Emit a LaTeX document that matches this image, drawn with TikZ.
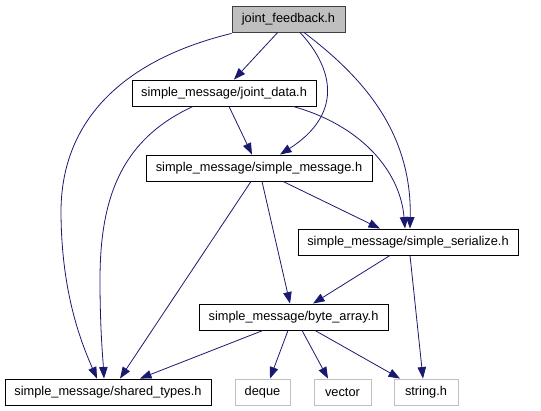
\documentclass[tikz,border=0pt]{standalone}
\usepackage{fontspec}
\setmainfont{Liberation Sans}
\usetikzlibrary{arrows.meta}
\definecolor{edgeblue}{HTML}{191970}
\definecolor{leafgray}{HTML}{BFBFBF}
\definecolor{rootfill}{HTML}{BFBFBF}
\definecolor{rootdraw}{HTML}{404040}
\tikzset{
  box/.style={draw=black, line width=0.9pt, fill=white, inner sep=0pt, minimum height=26pt,
    font=\fontsize{12.8}{15}\selectfont, anchor=center},
  leaf/.style={box, draw=leafgray},
  root/.style={box, draw=rootdraw, fill=rootfill},
  edge/.style={draw=edgeblue, line width=0.8pt, -{Triangle[length=11.5pt,width=8.5pt]}},
}
\begin{document}
\begin{tikzpicture}[x=1pt,y=-1pt]
\useasboundingbox (0,0) rectangle (541,411);
\node[root, minimum width=113pt] (jf) at (288.5,19) {joint\_feedback.h};
\node[box, minimum width=184pt] (jd) at (224,93) {simple\_message/joint\_data.h};
\node[box, minimum width=226pt] (sm) at (259,168) {simple\_message/simple\_message.h};
\node[box, minimum width=220pt] (ss) at (408,242) {simple\_message/simple\_serialize.h};
\node[box, minimum width=189pt] (ba) at (293.5,317) {simple\_message/byte\_array.h};
\node[box, minimum width=206pt] (st) at (108,392) {simple\_message/shared\_types.h};
\node[leaf, minimum width=55pt] (dq) at (262.5,392) {deque};
\node[leaf, minimum width=57pt] (vc) at (342.5,392) {vector};
\node[leaf, minimum width=64pt] (sh) at (426,392) {string.h};

% root edges
\draw[edge] ([xshift=-10.8pt]jf.south) -- ([xshift=10pt]jd.north);
\draw[edge] ([yshift=-1pt]jf.south west) .. controls (130,58) and (62,115) .. (61,210)
  .. controls (61,290) and (80,340) .. ([xshift=-11pt]st.north);
\draw[edge] ([xshift=11.5pt]jf.south) .. controls (335,70) and (342,115) .. ([xshift=21pt]sm.north);
\draw[edge] ([xshift=15.5pt]jf.south) .. controls (360,75) and (412,130) .. ([xshift=2pt]ss.north);

% joint_data edges
\draw[edge] ([xshift=-31pt]jd.south) .. controls (120,140) and (100,200) .. (100,280)
  .. controls (100,330) and (103,360) .. ([xshift=-4pt]st.north);
\draw[edge] ([xshift=5pt]jd.south) -- ([xshift=-7pt]sm.north);
\draw[edge] ([xshift=69pt]jd.south) .. controls (360,125) and (400,170) .. ([xshift=-3pt]ss.north);

% simple_message edges
\draw[edge] ([xshift=-8pt]sm.south) -- ([xshift=12pt]st.north);
\draw[edge] ([xshift=3pt]sm.south) -- ([xshift=-3.5pt]ba.north);
\draw[edge] ([xshift=24pt]sm.south) -- ([xshift=-28pt]ss.north);

% simple_serialize edges
\draw[edge] ([xshift=-18pt]ss.south) -- ([xshift=19.5pt]ba.north);
\draw[edge] ([xshift=2pt]ss.south) -- ([xshift=-3pt]sh.north);

% byte_array edges
\draw[edge] ([xshift=-30.5pt]ba.south) -- ([xshift=32pt]st.north);
\draw[edge] ([xshift=-5.5pt]ba.south) -- ([xshift=7.5pt]dq.north);
\draw[edge] ([xshift=8.5pt]ba.south) -- ([xshift=-14.5pt]vc.north);
\draw[edge] ([xshift=21.5pt]ba.south) -- ([xshift=-26pt]sh.north);
\end{tikzpicture}
\end{document}
